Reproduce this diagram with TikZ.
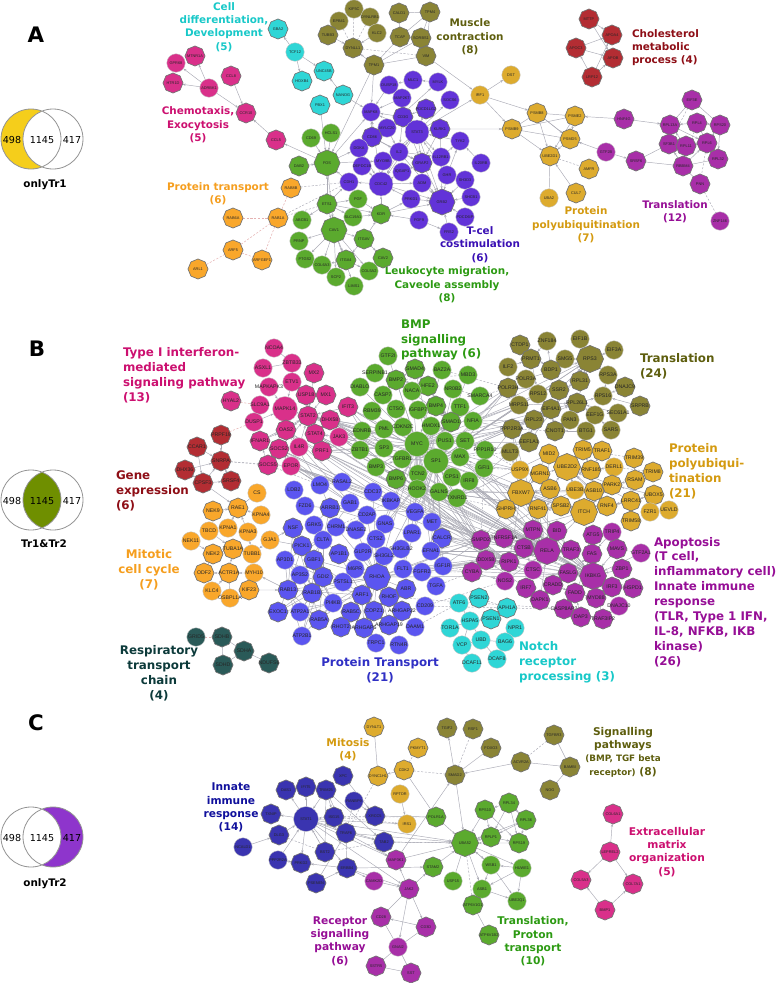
\documentclass[tikz,border=0pt]{standalone}
\usepackage{fontspec}
\usetikzlibrary{shapes.geometric,arrows.meta}
\newfontfamily\labf{DejaVu Sans}
\newfontfamily\genef{Liberation Sans}
\pgfdeclarelayer{bg}
\pgfsetlayers{bg,main}
\definecolor{cTurq}{HTML}{2FD6D6}
\definecolor{cPink}{HTML}{D9308A}
\definecolor{cOlive}{HTML}{8A8435}
\definecolor{cGreen}{HTML}{5BAA2E}
\definecolor{cOrange}{HTML}{F9A72B}
\definecolor{cViolet}{HTML}{6233D8}
\definecolor{cGold}{HTML}{DDAB2E}
\definecolor{cRed}{HTML}{B32D33}
\definecolor{cMag}{HTML}{A82FA8}
\definecolor{cBlue}{HTML}{5B55F0}
\definecolor{cDark}{HTML}{2A5A58}
\definecolor{cNavy}{HTML}{3A34B0}
\definecolor{tTurq}{HTML}{18C8C8}
\definecolor{tPink}{HTML}{CC1070}
\definecolor{tOlive}{HTML}{5E5E0E}
\definecolor{tGreen}{HTML}{2C9A12}
\definecolor{tOrange}{HTML}{F59E1E}
\definecolor{tViolet}{HTML}{3A10B4}
\definecolor{tGold}{HTML}{D49A10}
\definecolor{tRed}{HTML}{8E0E16}
\definecolor{tMag}{HTML}{960E96}
\definecolor{tBlue}{HTML}{3030C4}
\definecolor{tDark}{HTML}{0C3A3A}
\definecolor{tNavy}{HTML}{10109C}
\definecolor{edgec}{HTML}{ABABB5}
\definecolor{vYellow}{HTML}{F5CE1B}
\definecolor{vOlive}{HTML}{6F8F00}
\definecolor{vPurple}{HTML}{8E35CC}
\colorlet{cur}{cPink}
\def\pf{A}
\def\gs{2.9pt}
\tikzset{
  genebase/.style={fill=cur,inner sep=0pt,outer sep=0pt,text=black!85,
    font=\genef\fontsize{\gs}{\gs}\selectfont},
  gcirc/.style={genebase,circle,draw=gray!45,line width=0.3pt},
  goct/.style={genebase,regular polygon,regular polygon sides=8,shape border rotate=22.5,draw=black!55,line width=0.5pt},
  eg/.style={draw=edgec,line width=0.35pt,-{Stealth[length=2.4pt,width=1.7pt]}},
  ep/.style={draw=edgec,line width=0.35pt},
  ed/.style={draw=edgec,line width=0.35pt,dashed,dash pattern=on 1.6pt off 1.2pt},
  ex/.style={draw=pink!80!gray,line width=0.4pt,dashed,dash pattern=on 1.6pt off 1.2pt},
  lbl/.style={inner sep=0pt,outer sep=0pt,align=center},
  lblA/.style={lbl,font=\labf\bfseries\fontsize{7.8}{10}\selectfont},
  lblB/.style={lbl,font=\labf\bfseries\fontsize{8.9}{11.2}\selectfont},
  lblC/.style={lbl,font=\labf\bfseries\fontsize{8}{9.95}\selectfont},
  vennc/.style={draw=gray!85,line width=0.6pt},
  vennt/.style={inner sep=0pt,outer sep=0pt,font=\labf\fontsize{7.2}{8}\selectfont},
  vennl/.style={inner sep=0pt,outer sep=0pt,font=\labf\bfseries\fontsize{7.8}{9}\selectfont},
  panl/.style={inner sep=0pt,outer sep=0pt,font=\labf\bfseries\fontsize{16}{18}\selectfont},
}
\newcommand{\Nc}[4][18.5]{\node[gcirc,minimum size=#1*0.75pt] (\pf#2) at (#3,#4) {\makebox[0pt]{#2}};}
\newcommand{\No}[4][18.5]{\node[goct,minimum size=#1*0.812pt] (\pf#2) at (#3,#4) {\makebox[0pt]{#2}};}
\newcommand{\ee}[2][eg]{\begin{pgfonlayer}{bg}\foreach \a/\b in {#2} {\draw[#1] (\pf\a) -- (\pf\b);}\end{pgfonlayer}}
\newcommand{\xx}[3][ep]{\begin{pgfonlayer}{bg}\foreach \a in {#2} {\foreach \b in {#3} {\draw[#1] (\pf\a) -- (\pf\b);}}\end{pgfonlayer}}
\begin{document}
\begin{tikzpicture}[x=0.75pt,y=-0.75pt]
\useasboundingbox (0,0) rectangle (779,983);

%% ---------- Venn diagrams and panel letters
\node[panl] (letA) at (36,35) {A};
\node[panl] (letB) at (37,349) {B};
\node[panl] (letC) at (36,723) {C};

\fill[vYellow] (31,139) circle (30);
\fill[white] (53,139) circle (30);
\draw[vennc] (31,139) circle (30) (53,139) circle (30);
\node[vennt] (vA1) at (12,140) {498};
\node[vennt] (vA2) at (42,140) {1145};
\node[vennt] (vA3) at (72,140) {417};
\node[vennl] (vA4) at (45,185) {onlyTr1};

\begin{scope}\clip (31,500) circle (30);\fill[vOlive] (53,500) circle (30);\end{scope}
\draw[vennc] (31,500) circle (30) (53,500) circle (30);
\node[vennt] (vB1) at (12,501) {498};
\node[vennt] (vB2) at (42,501) {1145};
\node[vennt] (vB3) at (72,501) {417};
\node[vennl] (vB4) at (44,544) {Tr1\&Tr2};

\fill[vPurple] (53,837) circle (30);
\fill[white] (31,837) circle (30);
\draw[vennc] (31,837) circle (30) (53,837) circle (30);
\node[vennt] (vC1) at (12,838) {498};
\node[vennt] (vC2) at (42,838) {1145};
\node[vennt] (vC3) at (72,838) {417};
\node[vennl] (vC4) at (45,884) {onlyTr2};

%% ---------- cluster labels
\node[lblA,text=tTurq] (lA1) at (224,27) {Cell\\differentiation,\\Development\\(5)};
\node[lblA,text=tPink] (lA2) at (198,125) {Chemotaxis,\\Exocytosis\\(5)};
\node[lblA,text=tOrange] (lA3) at (218,193.5) {Protein transport\\(6)};
\node[lblA,text=tOlive] (lA4) at (470,37) {Muscle\\contraction\\(8)};
\node[lblA,text=tRed,anchor=west,align=left] (lA5) at (632,47.5) {Cholesterol\\metabolic\\process (4)};
\node[lblA,text=tViolet] (lA6) at (480,244.5) {T-cel\\costimulation\\(6)};
\node[lblA,text=tGreen] (lA7) at (447,285) {Leukocyte migration,\\Caveole assembly\\(8)};
\node[lblA,text=tGold] (lA8) at (586,225) {Protein\\polyubiquitination\\(7)};
\node[lblA,text=tMag] (lA9) at (675,211.5) {Translation\\(12)};

\node[lblB,text=tPink,anchor=west,align=left] (lB1) at (123,375.5) {Type I interferon-\\mediated\\signaling pathway\\(13)};
\node[lblB,text=tGreen,anchor=west,align=left] (lB2) at (401,340) {BMP\\signalling\\pathway (6)};
\node[lblB,text=tOlive,anchor=west,align=left] (lB3) at (640,366.5) {Translation\\(24)};
\node[lblB,text=tGold,anchor=west,align=left] (lB4) at (669,471.5) {Protein\\polyubiqui-\\tination\\(21)};
\node[lblB,text=tRed,anchor=west,align=left] (lB5) at (116,491) {Gene\\expression\\(6)};
\node[lblB,text=tOrange] (lB6) at (149,570) {Mitotic\\cell cycle\\(7)};
\node[lblB,text=tDark] (lB7) at (159,673.5) {Respiratory\\transport\\chain\\(4)};
\node[lblB,text=tBlue] (lB8) at (380,670.5) {Protein Transport\\(21)};
\node[lblB,text=tTurq,anchor=west,align=left] (lB9) at (519,662) {Notch\\receptor\\processing (3)};
\node[lblB,text=tMag,anchor=west,align=left] (lB10) at (654,602) {Apoptosis\\(T cell,\\inflammatory cell)\\Innate immune\\response\\(TLR, Type 1 IFN,\\IL-8, NFKB, IKB\\kinase)\\(26)};

\node[lblC,text=tGold] (lC1) at (348,749.5) {Mitosis\\(4)};
\node[lblC,text=tNavy] (lC2) at (231,807.5) {Innate\\immune\\response\\(14)};
\node[lblC,text=tMag] (lC3) at (340,941) {Receptor\\signalling\\pathway\\(6)};
\node[lblC,text=tGreen] (lC4) at (533,941.5) {Translation,\\Proton\\transport\\(10)};
\node[lblC,text=tOlive] (lC5) at (623,752) {Signalling\\pathways\\{\fontsize{6.6}{9.95}\selectfont (BMP, TGF beta}\\{\fontsize{6.6}{9.95}\selectfont receptor)} (8)};
\node[lblC,text=tPink] (lC6) at (667,852) {Extracellular\\matrix\\organization\\(5)};

%% ---------- PANEL A
\def\pf{A}\def\gs{2.9pt}
\colorlet{cur}{cTurq}
\No{GBA2}{278}{29}\Nc{TCF12}{295}{52}\No{UNC45B}{324}{71}\No{HOXB4}{302}{81}\No{NANOG}{343}{95}\No{PBX1}{320}{105}
\colorlet{cur}{cPink}
\Nc{GPR68}{176}{63}\No{MTNR1A}{195}{56}\No{HTR1D}{173}{83}\Nc{ADRBK1}{209}{88}\No{CCL8}{231}{76}\No{CCR10}{246}{113}\No{CCL5}{276}{140}
\colorlet{cur}{cOlive}
\Nc{KIF5C}{354}{9}\Nc{DYNLRB1}{370}{17}\Nc{EPB41}{339}{21}\Nc{KLC2}{377}{33}\No{TUBB3}{328}{35}\No{DYNLL1}{353}{48}
\No{CALD1}{399}{13}\No{TPM4}{430}{12}\No{TCAP}{400}{37}\No{SORBS1}{421}{38}\No{VIM}{426}{56}\No{TPM1}{374}{65}
\colorlet{cur}{cGreen}
\Nc{CD69}{311}{138}\Nc{HCLS1}{331}{133}\No{DAB2}{299}{166}\No[24]{FOS}{327}{163}\No{ETS1}{327}{204}\Nc{PGF}{358}{199}\No{KDR}{381}{214}
\Nc{SLC19A1}{353}{217}\Nc{ABCB1}{302}{220}\No[24]{CAV1}{334}{230}\No{ITGAV}{364}{239}\Nc{PRNP}{299}{241}\Nc{PTGS2}{305}{259}
\Nc{COL6A3}{322}{265}\No{ITGA4}{346}{260}\No{CAV2}{383}{258}\Nc{COL5A2}{369}{271}\Nc{SCP2}{336}{277}\Nc{LIMS1}{354}{286}
\colorlet{cur}{cOrange}
\No{RAB8B}{291}{188}\No{RAB6A}{233}{218}\No{RAB1A}{278}{218}\No{ARF5}{233}{250}\No{ARFGEF1}{262}{260}\No{ARL1}{198}{269}
\colorlet{cur}{cViolet}
\Nc{MAPK8}{371}{112}\Nc{DUSP18}{389}{85}\Nc{MLC1}{413}{80}\Nc{MYLK}{438}{82}\Nc{MAP2K7}{402}{98}\Nc{SOCS6}{450}{100}
\No{PDCD1LG2}{426}{109}\No{CD3G}{403}{117}\Nc{MYLC20}{387}{128}\Nc[24]{STAT3}{417}{132}\No{KLRK1}{440}{129}\Nc{TYK2}{460}{141}
\No{CD86}{372}{137}\Nc{DGKA}{359}{148}\Nc{IL2}{399}{152}\Nc{IL12RB1}{441}{157}\Nc{MYO9B}{383}{161}\No{GRAP2}{422}{163}
\Nc{DEPDC1B}{362}{166}\Nc{IL20RB}{481}{163}\Nc[24]{CDC42}{381}{184}\Nc{IQGAP1}{402}{172}\Nc{GHR}{447}{175}\Nc{SH3D3}{465}{180}
\Nc{CDH1}{349}{182}\Nc{ADM}{422}{183}\Nc{PRKD1}{411}{199}\No[24]{GRB2}{442}{202}\Nc{SHCB1}{471}{197}\Nc{PDCD6IP}{465}{217}
\Nc{FGF9}{419}{220}\Nc{FRS2}{449}{232}
\colorlet{cur}{cGold}
\Nc{IRF1}{480}{95}\Nc{DST}{511}{75}\No{PSMB8}{537}{113}\No{PSME2}{575}{116}\No{PSMB9}{512}{129}\No{PSMD5}{570}{139}
\No{UBE2D1}{550}{156}\No{AMFR}{589}{169}\No{CUL7}{576}{193}\Nc{UBA2}{549}{198}
\colorlet{cur}{cRed}
\No{MTTP}{589}{19}\No{APOA4}{612}{35}\No{APOC3}{576}{48}\No{APOB}{613}{58}\No{LRP12}{592}{77}
\colorlet{cur}{cMag}
\No{EIF3E}{692}{100}\No{RPL13A}{670}{125}\No{RPL4}{697}{123}\No{RPS20}{720}{125}\No{HNF4G}{624}{119}\No{SF3B1}{669}{144}
\No{RPL11}{686}{146}\No{RPL6}{707}{143}\No{RPL32}{718}{159}\Nc{GTF2B}{606}{152}\No{SRSF6}{636}{161}\No{RBBM4}{683}{166}
\No{PNN}{700}{184}\Nc{ZNF146}{720}{221}

\ee{TCF12/GBA2,TCF12/UNC45B,TCF12/HOXB4,NANOG/UNC45B,PBX1/FOS,NANOG/MAPK8,
 ADRBK1/GPR68,ADRBK1/MTNR1A,ADRBK1/HTR1D,ADRBK1/CCR10,CCL8/CCR10,CCL5/CCR10,FOS/CCL5,
 TUBB3/DYNLL1,KLC2/DYNLL1,TPM1/DYNLL1,TPM1/MAPK8,
 HCLS1/FOS,CD69/FOS,DAB2/FOS,ETS1/FOS,FOS/CAV1,FOS/DGKA,FOS/MYO9B,CDH1/FOS,FOS/MAPK8,TPM1/FOS,
 ETS1/PGF,ETS1/KDR,ETS1/SLC19A1,ETS1/ABCB1,ETS1/CDH1,ETS1/CAV1,
 CAV1/ITGAV,CAV1/ITGA4,CAV1/PTGS2,CAV1/PRNP,CAV1/COL6A3,CAV1/SCP2,CAV1/LIMS1,CAV1/COL5A2,
 ITGAV/ITGA4,ITGA4/COL5A2,ITGA4/COL6A3,ITGAV/CAV2,ITGAV/KDR,PGF/KDR,KDR/CDC42,SLC19A1/KDR,
 KDR/GRB2,FGF9/KDR,FGF9/FRS2,FRS2/GRB2,KDR/PRKD1,
 MLC1/DUSP18,MYLK/MLC1,MAP2K7/MAPK8,CD3G/MAPK8,CD86/MAPK8,CDC42/MAPK8,DUSP18/MAPK8,
 CD3G/STAT3,CD3G/IL2,CD3G/GRAP2,CD86/IL2,CD86/CD3G,CD86/GRAP2,MYLC20/MYLK,MYLC20/IL2,MYLC20/CD3G,
 STAT3/IL2,STAT3/IL12RB1,STAT3/GRAP2,STAT3/SOCS6,STAT3/MAPK8,STAT3/CDC42,STAT3/GRB2,STAT3/KLRK1,STAT3/MYO9B,
 PDCD1LG2/CD3G,PDCD1LG2/STAT3,KLRK1/GRAP2,KLRK1/GRB2,IL2/IL12RB1,IL2/GRAP2,IL2/GRB2,IL2/CDC42,
 IL12RB1/TYK2,TYK2/STAT3,IL20RB/TYK2,GHR/TYK2,GHR/GRB2,GHR/STAT3,SH3D3/GRB2,SHCB1/GRB2,PDCD6IP/GRB2,
 GRAP2/GRB2,ADM/GRB2,PRKD1/GRB2,PRKD1/CDC42,CDC42/IQGAP1,CDC42/GRB2,CDC42/MYO9B,CDC42/ADM,CDC42/CDH1,
 IQGAP1/GRAP2,DEPDC1B/CDC42,DGKA/CDC42,
 IRF1/DST,STAT3/IRF1,VIM/IRF1,IRF1/PSMB8,IRF1/PSMB9,KLRK1/PSMB9,
 PSMB8/PSMD5,PSMB8/UBE2D1,PSMB9/UBE2D1,PSME2/PSMD5,PSME2/UBE2D1,PSMD5/UBE2D1,CUL7/UBE2D1,
 GTF2B/PSMD5,HNF4G/PSME2,HNF4G/RPL13A,GTF2B/SRSF6,
 MTTP/APOA4,APOC3/APOA4,LRP12/APOC3,LRP12/APOA4,LRP12/APOB,APOC3/APOB,MTTP/APOB,
 RPL4/RPL13A,RPL13A/RPL6,SF3B1/RPL6,RPL4/RPS20,RPS20/RPL32,RPL6/RPS20,RPL11/RPL13A,RPL11/RPL6,
 RBBM4/RPL6,RBBM4/RPL11,RBBM4/SF3B1}
\ee[ep]{CALD1/TPM4,CALD1/TCAP,TPM4/SORBS1,TPM4/VIM,TPM4/TCAP,TCAP/TPM1,SORBS1/TPM1,VIM/TPM1,SORBS1/TCAP,
 PSMB8/PSME2,PSMB9/PSMB8,PSMB9/PSME2,PSMB9/PSMD5,PSMB8/PSMD5,UBA2/UBE2D1,
 EIF3E/RPL13A,EIF3E/RPS20,SF3B1/SRSF6,SRSF6/RBBM4,RBBM4/RPL32,RPL32/RPL6,SF3B1/RPL11,SF3B1/RBBM4,RPL4/RPL6,RBBM4/PNN}
\ee[ed]{KIF5C/DYNLL1,DYNLRB1/DYNLL1,EPB41/DYNLL1,DYNLL1/VIM,CDH1/RAB8B,CDH1/RAB1A,ETS1/RAB1A,UBE2D1/AMFR,PNN/ZNF146,RPL6/PNN,EIF3E/SF3B1,RPL4/RBBM4}
\ee[ex]{RAB6A/RAB1A,RAB8B/RAB1A,RAB1A/ARF5,RAB1A/ARFGEF1,ARF5/ARFGEF1,ARF5/ARL1}

%% ---------- PANEL B
\def\pf{B}\def\gs{3.9pt}
\colorlet{cur}{cPink}
\Nc{NCOA4}{274}{348}\Nc{ZBTB33}{292}{363}\Nc{ASXL1}{263}{368}\No{MX2}{314}{373}\Nc{MAPKAPK3}{269}{387}\Nc{ETV1}{292}{382}
\No{USP18}{306}{395}\No{MX1}{326}{395}\No{IFIT3}{348}{407}\No{HYAL2}{231}{401}\Nc{SLC9A1}{260}{405}\Nc[25]{MAPK14}{285}{409}
\No{STAT2}{308}{416}\No{DHX58}{330}{420}\Nc{DUSP1}{254}{422}\No{OAS2}{286}{430}\Nc{JAK3}{339}{437}\No{STAT4}{315}{434}
\No{IFNAR1}{260}{441}\Nc{IL4R}{299}{447}\No{SOCS2}{279}{449}\No{PRF1}{322}{451}\No{SOCS5}{268}{465}\Nc{EPOR}{291}{466}
\colorlet{cur}{cRed}
\No{PRPF19}{221}{435}\No{CCAR1}{197}{447}\No{SNRPA}{221}{461}\No{DHX36}{185}{470}\No{CPSF3}{203}{483}\No{SRSF4}{231}{481}
\colorlet{cur}{cOrange}
\Nc{CS}{257}{493}\No{RAE1}{238}{508}\No{NEK9}{213}{511}\Nc{KPNA4}{261}{515}\Nc{TBCD}{209}{531}\Nc{KPNA1}{228}{528}\Nc{KPNA3}{248}{532}
\Nc{GJA1}{270}{540}\Nc{NEK11}{191}{541}\No{TUBA1A}{233}{549}\No{NEK2}{213}{554}\Nc{TUBB1}{252}{554}\No{ODF2}{204}{573}\No{ACTR1A}{229}{573}
\Nc{MYH10}{254}{573}\Nc{KLC4}{212}{591}\Nc{OSBPL1A}{230}{598}\No{KIF23}{249}{590}
\colorlet{cur}{cDark}
\Nc{GRID5}{196}{637}\No{SDHB}{222}{637}\No{SDHA}{244}{651}\No{SDHD}{223}{665}\No{NDUFS6}{269}{663}
\colorlet{cur}{cBlue}
\Nc{LDB2}{294}{490}\Nc{LMO4}{320}{485}\Nc{RASAL2}{342}{482}\Nc{CDC37}{373}{492}\Nc{IKBKAP}{391}{501}\Nc{FZD6}{305}{506}\No{ARRB1}{330}{508}
\Nc{GAB1}{350}{503}\Nc{CD2AP}{367}{515}\Nc{VEGFA}{415}{512}\Nc{GNAS}{385}{524}\Nc{MET}{432}{522}\No{NSF}{293}{528}\Nc{GRK5}{314}{525}
\Nc{CHRM1}{336}{527}\Nc{DNASE2}{356}{530}\Nc{LPAR1}{412}{533}\No{CALCR}{442}{538}\Nc{CLTA}{323}{540}\Nc{CTSZ}{376}{539}\Nc{SH3GLB2}{401}{549}
\Nc{EFNA1}{431}{551}\No{PICK1}{302}{546}\No{AP1B1}{339}{554}\Nc{GLP2R}{363}{552}\Nc{SH3GL2}{384}{556}\Nc{AP3D1}{285}{560}\No{GBF1}{314}{560}
\Nc{FLT1}{403}{569}\Nc{FGFR2}{422}{572}\Nc{IGF1R}{443}{566}\Nc{M6PR}{355}{569}\Nc{AP3S2}{300}{575}\No{GDI2}{323}{577}\Nc{PSTSL1}{343}{582}
\No[25]{RHOA}{377}{577}\Nc{TGFA}{436}{586}\No{ABR}{406}{589}\No{RAB13}{288}{590}\No{RAB1B}{312}{593}\No{ARF1}{362}{595}\No{RHOF}{389}{597}
\Nc{PI4KB}{333}{603}\Nc{CD209}{425}{606}\No{EXOC1}{278}{612}\Nc{ATP2A1}{300}{612}\No{RAB5C}{351}{612}\No{COPZ1}{374}{611}\No{ARHGAP22}{402}{611}
\No{RAB5A}{319}{620}\Nc{DAAM1}{415}{627}\No{RHOT2}{341}{627}\No{ARHGAP5}{364}{628}\No{ARHGAP19}{389}{625}\Nc{ATP2B1}{302}{636}\Nc{TRPC1}{376}{643}\Nc{RTN4R}{399}{645}
\colorlet{cur}{cGreen}
\Nc{GTF2I}{388}{356}\No{SMAD4}{415}{369}\Nc{BAZ2A}{442}{370}\Nc{SERPINB1}{375}{373}\No{BMP2}{396}{380}\No{HFE2}{428}{386}\Nc{DIABLO}{360}{387}
\Nc{NACA}{412}{391}\Nc{CASP7}{383}{395}\Nc{NR0B2}{453}{389}\Nc{MBD3}{468}{375}\Nc{SMARCA4}{480}{396}\Nc{TTF1}{460}{407}\No{BMP4}{436}{406}
\Nc{RBM39}{372}{411}\Nc{CTSO}{396}{409}\Nc{IGFBP7}{418}{410}\No{SMAD1}{451}{422}\Nc{NFIA}{473}{421}\Nc{EDNRB}{362}{431}\Nc{PML}{384}{429}
\Nc{CDKN2C}{403}{427}\Nc{HMOX1}{431}{426}\Nc[25]{MYC}{417}{444}\Nc{PUS1}{445}{441}\Nc{SET}{465}{441}\Nc{PPP1R10}{485}{450}\Nc{ZBTB1}{360}{450}
\Nc{SP3}{384}{448}\Nc{TGFBR1}{402}{459}\Nc[25]{SP1}{436}{461}\Nc{MAX}{460}{457}\Nc{GFI1}{484}{468}\Nc{BMP3}{376}{467}\Nc{TCN2}{418}{474}
\No{BMP6}{396}{479}\Nc{CPS1}{452}{477}\Nc{IRF8}{469}{481}\Nc{HOOK2}{417}{489}\Nc{GALNS}{439}{492}\Nc{TXNRD1}{457}{498}
\colorlet{cur}{cOlive}
\No{CTDP1}{520}{345}\Nc{ZNF184}{547}{341}\Nc{EIF1B}{580}{339}\Nc{EIF3A}{614}{350}\No{PRMT1}{531}{359}\Nc{SMG5}{565}{359}\No[25]{RPS3}{590}{359}
\Nc{ILF2}{508}{367}\No{BDP1}{551}{370}\Nc{RPS3A}{608}{375}\Nc{POLR3A}{526}{379}\No{RPL31}{580}{381}\No{DNAJC9}{625}{387}\No{POLR3H}{508}{388}
\No{SSR2}{559}{390}\Nc{RPS12}{538}{394}\Nc{RPS16}{603}{396}\No{RPL26L1}{577}{403}\Nc{MRPS11}{519}{405}\No{SRPRB}{640}{406}\No{EIF4A1}{551}{409}
\Nc{EEF1G}{595}{415}\Nc{SEC61A1}{618}{413}\No{RPL23}{534}{420}\Nc{PAN3}{570}{420}\No{PPP2R3A}{512}{429}\No{CNOT1}{555}{431}\Nc{BTG1}{586}{431}
\Nc{SARS}{611}{430}\No{EEF1A1}{529}{442}\Nc{MLLT3}{510}{452}
\colorlet{cur}{cGold}
\No{MID2}{549}{454}\No{TRIM5}{583}{450}\No{TRAF1}{602}{451}\No{TRIM39}{634}{458}\Nc{DERL1}{614}{467}\No[25]{UBE2D2}{567}{467}\No{RNF185}{591}{470}
\No{TRIM8}{653}{472}\Nc{USP9X}{520}{470}\No{MGRN1}{540}{474}\No{RSAM}{635}{480}\No{PARK2}{612}{485}\No{ASB6}{550}{489}\Nc{UBE3B}{575}{490}
\No{ASB10}{594}{491}\No[25]{FBXW7}{521}{493}\No{UBOX5}{654}{495}\No{LRRC41}{631}{501}\No{RNF4}{607}{506}\No{RNF41}{538}{509}\No{SPSB2}{561}{506}
\No{SHPRH}{506}{509}\No[25]{ITCH}{584}{512}\Nc{FZR1}{650}{512}\Nc{UEVLD}{669}{510}\No{TRIM58}{631}{521}
\colorlet{cur}{cMag}
\No{MTPN}{533}{530}\No{BID}{557}{531}\No{ATG5}{593}{535}\Nc{TRIP4}{612}{532}\No{SMPD2}{481}{540}\No{TNFRSF1A}{504}{538}\No{CTSB}{524}{548}
\No[25]{RELA}{547}{551}\No{TRAF3}{571}{550}\No{FAS}{592}{554}\No{MAVS}{617}{549}\Nc{GTF2A1}{641}{553}\No{DDX58}{486}{560}\No{RIPK1}{509}{562}
\No{CYBA}{472}{572}\Nc{CTSC}{533}{570}\No{FASLG}{568}{573}\No[25]{IKBKG}{593}{576}\No{ZBP1}{622}{569}\Nc{NOS2}{505}{581}\No{IRF7}{526}{588}
\No{CRADD}{553}{585}\No{IRF3}{612}{587}\No{HSPD1}{633}{588}\No{FADD}{575}{593}\No{MYD88}{596}{598}\No{DAPK1}{540}{600}\Nc{DNAJC10}{619}{606}
\No{CASP8AP2}{564}{609}\No{DAP3}{581}{617}\No{TRAF3IP2}{603}{619}
\colorlet{cur}{cTurq}
\Nc{ATF6}{459}{603}\No{PSEN2}{479}{598}\No{APH1A}{507}{608}\Nc{HSPA5}{470}{621}\No{PSEN1}{491}{619}\Nc{TOR1A}{450}{628}\Nc{NPR1}{515}{628}
\Nc{UBD}{481}{640}\Nc{BAG6}{505}{642}\Nc{VCP}{462}{645}\Nc{DCAF8}{497}{659}\Nc{DCAF11}{472}{663}

% within clusters
\ee{MAPKAPK3/MAPK14,ETV1/MAPK14,USP18/STAT2,MX1/STAT2,MX2/STAT2,IFIT3/STAT2,STAT2/OAS2,STAT2/DHX58,STAT4/STAT2,OAS2/MAPK14,
 IFNAR1/STAT2,IFNAR1/OAS2,SOCS2/STAT2,SOCS5/IFNAR1,IL4R/STAT2,DUSP1/MAPK14,MAPK14/STAT2,EPOR/SOCS2,JAK3/STAT4,PRF1/STAT4,
 CCAR1/SNRPA,DHX36/SNRPA,CPSF3/SNRPA,SRSF4/SNRPA,DHX36/CPSF3,CPSF3/SRSF4,PRPF19/SNRPA,CCAR1/CPSF3,
 NEK9/RAE1,KPNA4/RAE1,KPNA1/RAE1,KPNA3/RAE1,CPSF3/RAE1,GJA1/NSF,GJA1/TUBB1,KPNA3/TUBB1,TUBA1A/TUBB1,NEK2/TUBA1A,NEK11/NEK2,TBCD/TUBA1A,
 ACTR1A/ODF2,MYH10/ACTR1A,ACTR1A/TUBA1A,KIF23/MYH10,KLC4/ACTR1A,KIF23/RAB13,RAB13/MYH10}
\ee[ep]{NCOA4/ZBTB33,ZBTB33/ETV1,ASXL1/ZBTB33,SDHB/SDHA,SDHB/SDHD,SDHA/SDHD,SDHA/NDUFS6,
 ODF2/NEK2,OSBPL1A/ACTR1A,OSBPL1A/KLC4,CS/RAE1,GJA1/PICK1}
\ee[ex]{HYAL2/SLC9A1,DUSP1/PRPF19,GRID5/SDHB}
\ee[ed]{SNRPA/SOCS5,SNRPA/EPOR,SOCS5/LMO4,EPOR/LMO4,IKBKAP/CHRM1,CD209/APH1A,CD209/NOS2,TGFA/CYBA,IGF1R/CYBA,FGFR2/CYBA,DAAM1/ATF6,
 PSEN2/APH1A,PSEN1/APH1A,CASP8AP2/APH1A,PSEN1/HSPA5,TRAF3IP2/DNAJC10,SMARCA4/POLR3H,NR0B2/SMARCA4,TTF1/NFIA,BMP2/MBD3,BAZ2A/POLR3H,
 PPP1R10/USP9X,GFI1/USP9X,MAX/MLLT3,IRF8/SHPRH,TXNRD1/SHPRH,GFI1/SMPD2,RHOF/CASP8AP2,GTF2A1/MAVS,TRIP4/MAVS,
 TRIM5/TRIM39,DERL1/TRIM8,UEVLD/FZR1,RELA/SHPRH,CNOT1/PPP2R3A,EEF1A1/MLLT3}
\ee{ZNF184/PRMT1,BDP1/ZNF184,EIF1B/RPS3,SMG5/RPS3,EIF3A/RPS3,RPS3A/RPS3,RPL31/RPS3,SSR2/RPS3,POLR3A/RPS3,ILF2/PRMT1,
 RPL26L1/RPS3,RPL26L1/RPS16,RPS16/RPS3A,DNAJC9/RPS16,SRPRB/RPS16,EEF1G/RPL26L1,SEC61A1/RPL26L1,EIF4A1/RPL26L1,EIF4A1/RPS3,RPS12/RPS3,
 RPL23/EIF4A1,RPL23/RPL26L1,PAN3/RPL26L1,CNOT1/EIF4A1,BTG1/CNOT1,SARS/EEF1G,MRPS11/RPL26L1,PPP2R3A/EIF4A1,EEF1A1/RPL23,EEF1A1/RPS3,POLR3H/SSR2,CTDP1/BDP1,PRMT1/RPS12}
\ee{RNF185/UBE2D2,USP9X/FBXW7,MGRN1/UBE2D2,ASB6/UBE2D2,UBE3B/UBE2D2,ASB10/UBE2D2,PARK2/UBE2D2,LRRC41/UBE2D2,RNF4/UBE2D2,ITCH/UBE2D2,
 ITCH/FBXW7,ITCH/ASB10,ITCH/SPSB2,ITCH/RNF41,RNF4/ITCH,LRRC41/ITCH,UBOX5/PARK2,UBOX5/LRRC41,RSAM/PARK2,TRIM8/RSAM,TRIM58/LRRC41,
 SHPRH/FBXW7,RNF41/FBXW7,SPSB2/FBXW7,ASB6/FBXW7,ASB10/FBXW7,UBE3B/FBXW7,MID2/UBE2D2,TRIM5/RNF185,TRAF1/RNF185,DERL1/RNF185,UBOX5/RNF4,
 LRRC41/RNF4,RSAM/LRRC41,SPSB2/RNF4,ASB6/SPSB2,UBE3B/RNF41,MGRN1/FBXW7,PARK2/ITCH,RNF41/RNF4,TRIM39/RSAM}
\ee{MTPN/RELA,BID/RELA,ATG5/FAS,TRIP4/FAS,CTSB/RELA,SMPD2/RELA,TNFRSF1A/RELA,TRAF3/RELA,FAS/IKBKG,MAVS/IKBKG,ZBP1/IKBKG,GTF2A1/IKBKG,
 TRAF3/IKBKG,FASLG/FAS,FASLG/IKBKG,FADD/FAS,FADD/IKBKG,MYD88/IKBKG,IRF3/IKBKG,HSPD1/IKBKG,RIPK1/RELA,RIPK1/IKBKG,DDX58/RIPK1,CTSC/RELA,
 NOS2/RELA,CRADD/FADD,CRADD/RIPK1,IRF7/RELA,IRF7/DDX58,DAPK1/RELA,CASP8AP2/FADD,DAP3/FADD,MYD88/FADD,TRAF3IP2/IKBKG,CYBA/RELA,CYBA/NOS2,RELA/IKBKG,CTSB/CTSC}
\ee[ep]{ATF6/HSPA5,HSPA5/VCP,TOR1A/HSPA5,HSPA5/UBD,UBD/BAG6,UBD/VCP,BAG6/NPR1,VCP/DCAF11,UBD/DCAF8,HSPA5/PSEN1}
% green cluster
\xx{GTF2I,BMP2,DIABLO,NACA,CTSO,EDNRB,CDKN2C,ZBTB1,TCN2,MAX}{MYC}
\xx{SMAD4,CASP7,RBM39,IGFBP7,PML,HMOX1,SP3,TGFBR1,HOOK2,PUS1}{SP1}
\ee{BMP2/SMAD4,BMP4/SMAD1,BMP2/SMAD1,SMAD4/SMAD1,HFE2/BMP2,HFE2/SMAD1,BMP3/SMAD1,BMP6/SMAD1,TGFBR1/SMAD1,NFIA/SP1,SET/MYC,IRF8/SP1,CPS1/SP1,
 GALNS/SP1,TXNRD1/SP1,PPP1R10/SET,GFI1/MAX,SP1/MYC,NR0B2/SP1,MBD3/SP1,TTF1/SP1,BAZ2A/MYC,BMP6/TGFBR1,BMP3/TGFBR1,IGFBP7/HMOX1}
% links between clusters
\xx{STAT2,DHX58,JAK3,PRF1,IFIT3}{PML,SP3,MYC,SP1,EDNRB}
\xx{JAK3,PRF1,STAT4,EPOR,DHX58}{SMPD2,RELA,RIPK1,IKBKG}
\xx{MYC,SP1,HOOK2,GALNS}{FBXW7,ITCH,RELA,IKBKG,SMPD2,DDX58}
\xx{MYC,SP1}{RPS3,EIF4A1,RPL23,POLR3H,MRPS11,PPP2R3A,EEF1A1,SHPRH,USP9X}
\xx{NFIA,SET}{POLR3H,RPS12,MRPS11,RPL23,PPP2R3A}
\xx{SP1,MYC}{RHOA,VEGFA,MET,LPAR1,CALCR,EFNA1,FLT1,CTSZ,GNAS,IGF1R}
\xx{RELA,IKBKG,RIPK1,SMPD2}{RHOA,CALCR,IGF1R,EFNA1,MET,FLT1,ITCH,FBXW7,RNF41}
\xx{RHOA}{ARF1,RHOF,ABR,COPZ1,M6PR,PSTSL1,GDI2,AP1B1,GLP2R,SH3GL2,FLT1,SH3GLB2,CTSZ,GNAS,ARHGAP22,ARHGAP19,ARHGAP5,RAB5C,RAB5A,PI4KB,RAB1B,RAB13,GBF1,CHRM1,CD2AP,DNASE2,LPAR1,CDC37}
\xx{CLTA}{AP1B1,AP3S2,AP3D1,CHRM1,GRK5,ARRB1,PICK1,CD2AP,GAB1,GBF1,GDI2}
\xx{ARRB1}{LMO4,FZD6,GAB1,CHRM1,GRK5,LPAR1,VEGFA}
\xx{ARF1}{COPZ1,RAB5C,RHOT2,ARHGAP5,GBF1,AP1B1,PI4KB,AP3S2,RAB13}
\xx{GBF1,PICK1,AP3D1,NSF,EXOC1,RAB5A,ATP2A1,ATP2B1}{RAB1B,RAB13,GDI2,PI4KB}
\xx{OAS2,SOCS2,EPOR}{GAB1,CDC37,LMO4,RASAL2,VEGFA}
\xx{IKBKG,RELA}{MAX,GFI1,IRF8,TXNRD1}
\xx{MLLT3,PPP2R3A,MID2}{FBXW7,RELA,TXNRD1}

%% ---------- PANEL C
\def\pf{C}\def\gs{2.9pt}
\colorlet{cur}{cGold}
\No{DYNLT1}{374}{727}\No{PKMYT1}{418}{748}\No{CDK2}{404}{770}\No{DYNC1H1}{378}{776}\Nc{RPTOR}{400}{794}\Nc{IRS1}{407}{824}
\colorlet{cur}{cOlive}
\No{TGIF2}{447}{728}\No{RSF1}{473}{729}\No{FOXO3}{491}{748}\No{SMAD2}{455}{775}\No{TGFBR3}{554}{735}\No{ACVR2A}{521}{762}\No{BAMBI}{570}{767}\No{NOG}{550}{790}
\colorlet{cur}{cNavy}
\No{XPC}{343}{776}\No{IFIT5}{306}{787}\No{OAS1}{286}{790}\No{TRIM25}{326}{790}\Nc{RANBP9}{354}{801}\No{TXNIP}{271}{814}\Nc[25]{STAT1}{306}{819}
\No{ISG15}{334}{817}\No{XRCC5}{375}{816}\Nc{NCALD1}{243}{847}\No{DLG3}{279}{835}\No{TRAF6}{346}{833}\No{TAB2}{384}{842}\No{BST2}{325}{852}
\Nc{PPP2R2A}{278}{860}\No{PRKD2}{301}{863}\No{ERBB4}{347}{868}\No{PSENEN}{316}{883}
\colorlet{cur}{cMag}
\No{MAP3K1}{396}{860}\Nc{CAMK2D}{374}{881}\No{JAK2}{409}{889}\No{CD28}{381}{917}\No{CD3D}{426}{927}\Nc{GNAI2}{398}{947}\No{SSTR5}{376}{966}\No{SST}{411}{973}
\colorlet{cur}{cGreen}
\No{RPS10}{485}{810}\No{RPL34}{509}{803}\No{RPL36}{526}{820}\No{POLR1A}{436}{817}\No[25]{UBA52}{465}{843}\No{RPLP1}{491}{837}\No{RPS19}{519}{843}
\Nc{WSB1}{491}{865}\Nc{HUWE1}{522}{868}\No{STAM2}{433}{867}\Nc{USP15}{453}{881}\Nc{ASB1}{482}{889}\Nc{UBE2Q1}{517}{901}\No{ATP6V1G1}{473}{905}\No{ATP6V1B2}{489}{935}
\colorlet{cur}{cPink}
\No{COL6A1}{613}{814}\No{LEPREL2}{610}{852}\No{COL5A3}{581}{880}\No{COL7A1}{633}{884}\No{BMP1}{605}{910}

\ee[ep]{DYNLT1/DYNC1H1,SMAD2/FOXO3,TGFBR3/BAMBI,ACVR2A/BAMBI,BAMBI/NOG,CDK2/POLR1A,XRCC5/POLR1A,
 ATP6V1G1/ATP6V1B2,USP15/UBA52,GNAI2/SSTR5,GNAI2/SST,SSTR5/SST,CD3D/GNAI2,JAK2/CD28,CD28/GNAI2,TRAF6/ERBB4,TRIM25/BST2}
\ee{CDK2/DYNC1H1,RPTOR/IRS1,SMAD2/TGIF2,ACVR2A/SMAD2,SMAD2/UBA52,POLR1A/UBA52,MAP3K1/SMAD2,
 ISG15/STAT1,STAT1/OAS1,STAT1/IFIT5,TRIM25/STAT1,STAT1/TXNIP,TRIM25/ISG15,TRIM25/TRAF6,TRIM25/TAB2,XPC/XRCC5,RANBP9/XRCC5,
 NCALD1/DLG3,DLG3/STAT1,PPP2R2A/STAT1,PPP2R2A/PRKD2,STAT1/PRKD2,ERBB4/PRKD2,BST2/STAT1,STAT1/TRAF6,STAT1/TAB2,STAT1/ERBB4,STAT1/MAP3K1,STAT1/JAK2,STAT1/UBA52,STAT1/IRS1,
 TRAF6/UBA52,TAB2/UBA52,TRAF6/TAB2,TRAF6/MAP3K1,MAP3K1/UBA52,PSENEN/ERBB4,PSENEN/TRAF6,ERBB4/STAM2,ERBB4/JAK2,CAMK2D/JAK2,ERBB4/CAMK2D,JAK2/STAM2,STAM2/UBA52,
 JAK2/MAP3K1,JAK2/CD3D,JAK2/GNAI2,CD3D/CD28,
 RPS10/UBA52,RPL34/RPS10,RPL34/RPL36,RPLP1/UBA52,RPS19/UBA52,RPL36/UBA52,RPL36/RPLP1,RPL34/RPLP1,RPS10/RPS19,RPL36/RPS19,RPL34/RPS19,RPS10/RPLP1,RPLP1/RPS19,
 UBA52/WSB1,UBA52/HUWE1,UBA52/ASB1,HUWE1/WSB1,WSB1/ASB1,HUWE1/ASB1,WSB1/UBE2Q1,ASB1/UBE2Q1,HUWE1/UBE2Q1,WSB1/UBA52,
 LEPREL2/COL6A1,LEPREL2/COL5A3,LEPREL2/COL7A1,BMP1/COL5A3,BMP1/COL7A1}
\ee[ed]{CDK2/PKMYT1,CDK2/SMAD2,SMAD2/RSF1,TGFBR3/ACVR2A,ISG15/XRCC5,ISG15/POLR1A,UBA52/ATP6V1G1,RANBP9/TRAF6,DYNC1H1/TRAF6,TAB2/UBA52,BST2/TAB2,STAT1/BST2,DLG3/BST2,ISG15/IRS1}
\end{tikzpicture}
\end{document}
